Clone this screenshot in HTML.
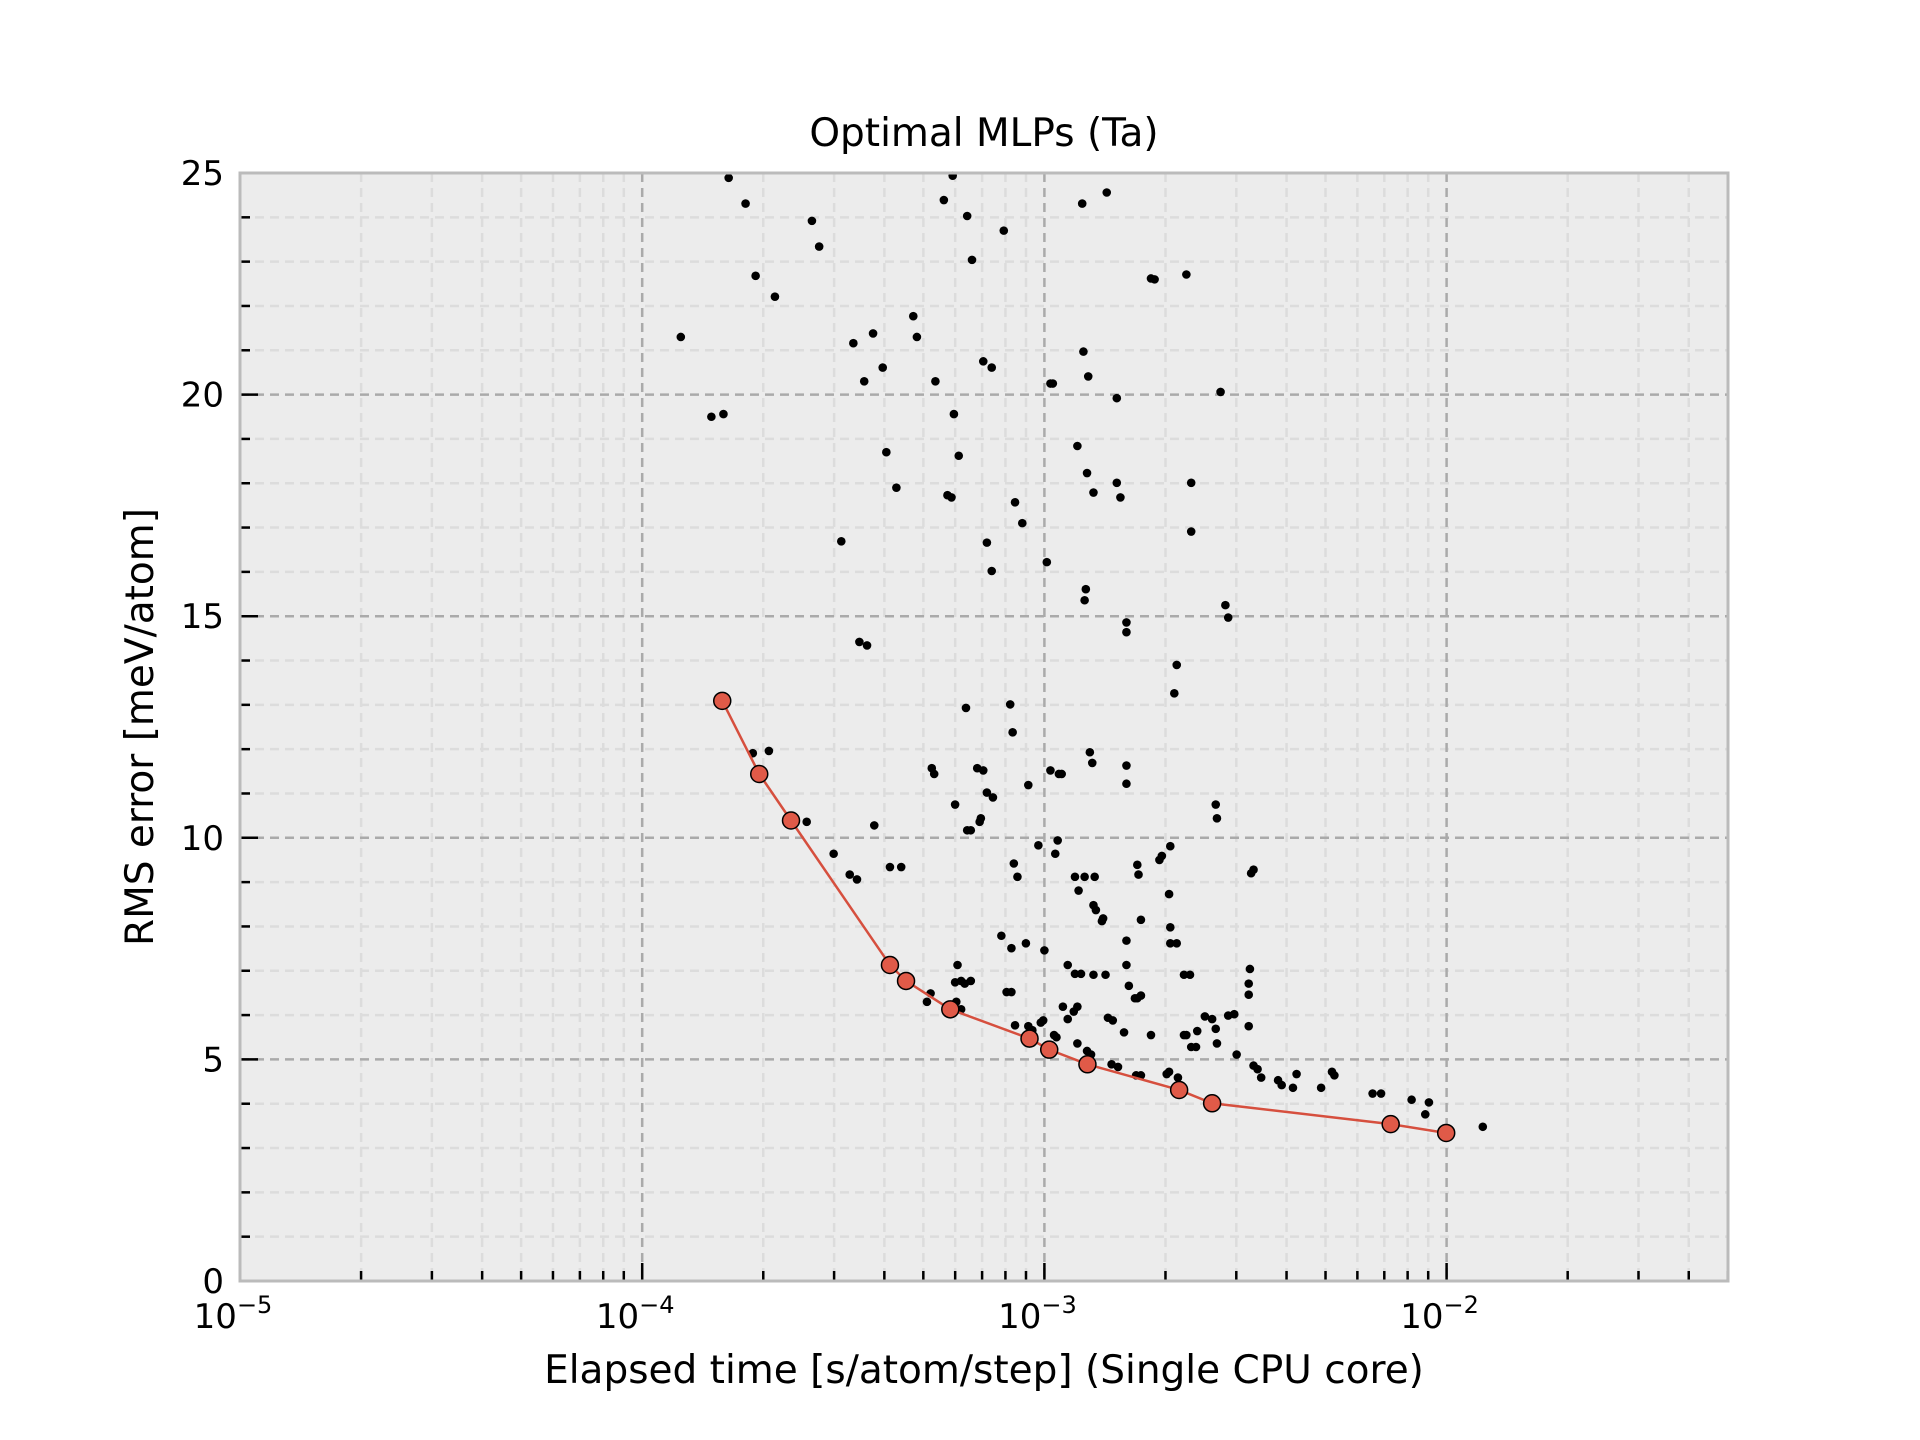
<!DOCTYPE html>
<html><head><meta charset="utf-8"><style>
html,body{margin:0;padding:0;background:#fff;}
svg{display:block;font-family:"DejaVu Sans","Liberation Sans",sans-serif;}
</style></head><body>
<svg id="chart" width="1920" height="1440" viewBox="0 0 1920 1440" xmlns="http://www.w3.org/2000/svg">
<rect x="240" y="173" width="1488" height="1108" fill="#ececec"/>
<g id="grid"></g>
<g id="ticks"></g>
<g id="series"></g>
<rect x="240" y="173" width="1488" height="1108" fill="none" stroke="#bbbbbb" stroke-width="3"/>
<text x="984" y="146" font-size="39" text-anchor="middle">Optimal MLPs (Ta)</text>
<text x="984" y="1383" font-size="39" text-anchor="middle">Elapsed time [s/atom/step] (Single CPU core)</text>
<text x="0" y="0" font-size="39" text-anchor="middle" transform="translate(153,727) rotate(-90)">RMS error [meV/atom]</text>
</svg>
<script>
// ---- data ----
const xTickExps = [-5, -4, -3, -2];
const yTickValues = [0, 5, 10, 15, 20, 25];
const paretoLogTime = [-3.801,-3.709,-3.630,-3.384,-3.344,-3.234,-3.037,-2.988,-2.893,-2.665,-2.583,-2.139,-2.001];
const paretoRMS = [13.09,11.44,10.39,7.13,6.77,6.13,5.47,5.22,4.89,4.31,4.01,3.54,3.34];
const allLogTime = [-3.785,-3.743,-3.904,-3.718,-3.670,-3.578,-3.560,-3.828,-3.798,-3.475,-3.426,-3.402,-3.448,-3.326,-3.317,-3.250,-3.228,-3.192,-3.180,-3.101,-3.271,-3.225,-3.152,-3.131,-3.213,-3.393,-3.368,-3.241,-3.231,-3.073,-3.055,-3.143,-3.131,-2.994,-2.985,-2.979,-2.906,-2.845,-2.903,-2.891,-2.820,-2.918,-2.894,-2.878,-2.820,-2.811,-2.735,-2.726,-2.647,-2.562,-2.635,-2.635,-2.897,-2.900,-2.796,-2.796,-2.550,-2.543,-2.671,-2.677,-3.505,-3.460,-3.441,
-3.725,-3.685,-3.591,-3.524,-3.484,-3.466,-3.423,-3.384,-3.356,-3.280,-3.274,-3.195,-3.085,-3.079,-3.222,-3.167,-3.152,-3.161,-3.158,-3.143,-3.128,-3.192,-3.183,-3.040,-2.985,-2.964,-2.957,-2.967,-2.973,-3.015,-3.076,-3.067,-2.887,-2.881,-2.796,-2.796,-2.769,-2.766,-2.687,-2.708,-2.714,-2.690,-2.687,-2.687,-2.671,-2.486,-2.480,-2.574,-2.571,-2.760,-2.924,-2.900,-2.875,-2.915,-2.878,-2.872,-2.857,-2.854,-3.107,-3.082,-3.046,-3.000,-3.216,-3.207,-3.183,-3.198,-3.222,-2.942,-2.924,-2.909,-2.878,-2.954,-2.918,-2.796,-2.796,-2.790,-2.775,-2.769,-2.760,-2.842,-2.830,-2.802,-2.735,-2.653,-2.647,-2.635,-2.623,-2.601,-2.583,-2.574,-2.571,-2.543,-2.528,-2.620,-2.489,-2.492,-2.492,-3.094,-3.082,-3.073,-3.009,-3.003,-2.976,-2.970,-2.918,-2.894,-2.884,-2.833,-2.817,-2.772,-2.760,-2.690,-2.696,-2.668,-2.522,-2.480,-2.470,-2.461,-2.419,-2.410,-2.382,-2.373,-2.312,-2.285,-2.279,-2.184,-2.163,-2.087,-2.044,-2.053,-1.910,-3.283,-3.292,-3.219,-3.207,-3.040,-3.030,-2.942,-2.927,-2.848,-2.653,-2.638,-2.492];
const allRMS = [24.89,24.31,21.30,22.68,22.21,23.92,23.34,19.50,19.56,21.16,21.38,20.61,20.30,21.77,21.30,24.39,24.94,24.03,23.04,23.70,20.30,19.56,20.75,20.61,18.62,18.70,17.90,17.73,17.68,17.57,17.10,16.66,16.02,16.22,20.25,20.25,24.31,24.56,20.97,20.41,19.92,18.84,18.23,17.79,18.01,17.68,22.62,22.60,22.71,20.06,18.01,16.91,15.61,15.36,14.86,14.64,15.25,14.97,13.90,13.26,16.69,14.42,14.34,
11.91,11.96,10.36,9.64,9.17,9.06,10.28,9.34,9.34,11.57,11.44,12.93,13.01,12.38,10.75,11.57,11.52,10.36,10.44,11.02,10.91,10.17,10.17,11.19,11.52,11.44,11.44,9.94,9.64,9.83,9.42,9.12,11.93,11.69,11.63,11.22,9.39,9.17,9.81,9.59,9.50,8.73,7.98,7.62,7.62,9.20,9.28,10.75,10.44,8.15,9.12,9.12,9.12,8.81,8.48,8.37,8.12,8.18,7.79,7.51,7.62,7.46,7.13,6.77,6.77,6.71,6.74,7.13,6.93,6.93,6.91,6.19,6.19,7.68,7.13,6.66,6.38,6.38,6.44,5.94,5.88,5.61,5.55,5.55,5.55,5.28,5.28,5.97,5.91,5.69,5.36,5.99,6.02,5.64,7.04,6.46,5.75,6.52,6.52,5.77,5.83,5.88,5.55,5.50,5.36,5.19,5.11,4.89,4.83,4.64,4.64,4.72,4.67,4.59,5.11,4.86,4.78,4.59,4.53,4.42,4.36,4.67,4.36,4.72,4.64,4.23,4.23,4.09,4.03,3.76,3.48,6.49,6.30,6.30,6.13,5.75,5.66,5.91,6.08,6.91,6.91,6.91,6.71];

// ---- axes ----
const L=240,R=1728,T=173,B=1281;
const xMinExp=-5, pxPerDecade=402.2;
const yMax=25;
const xs = e => L + (e - xMinExp)*pxPerDecade;
const ys = v => B - v/yMax*(B-T);
const NS="http://www.w3.org/2000/svg";
function mk(tag, attrs, parent){const el=document.createElementNS(NS,tag);for(const k in attrs)el.setAttribute(k,attrs[k]);parent.appendChild(el);return el;}
const grid=document.getElementById('grid'), ticks=document.getElementById('ticks'), series=document.getElementById('series');
const xMaxExp = xMinExp + (R-L)/pxPerDecade;

for(let d=-5; d<-1; d++){
  for(let m=2;m<=9;m++){
    const e=d+Math.log10(m); if(e>xMaxExp) continue;
    const x=xs(e);
    const g=mk('line',{x1:x,x2:x,y1:T,y2:B,stroke:'#dcdcdc','stroke-width':2.5,'stroke-dasharray':'9,6'},grid);
    
    
    const t=mk('line',{x1:x,x2:x,y1:B,y2:B-10,stroke:'#000','stroke-width':2.5},ticks);
    
    
  }
}
for(let v=1; v<25; v++){
  if(v%5===0) continue;
  const y=ys(v);
  const g=mk('line',{x1:L,x2:R,y1:y,y2:y,stroke:'#dcdcdc','stroke-width':2.5,'stroke-dasharray':'9,6'},grid);
  
  
  const t=mk('line',{x1:L,x2:L+10,y1:y,y2:y,stroke:'#000','stroke-width':2.5},ticks);
  
  
}
xTickExps.forEach(e=>{
  const x=xs(e);
  const g=mk('line',{x1:x,x2:x,y1:T,y2:B,stroke:'#aaaaaa','stroke-width':2.5,'stroke-dasharray':'9,6'},grid);
  
  
  const t=mk('line',{x1:x,x2:x,y1:B,y2:B-18,stroke:'#000','stroke-width':2.5},ticks);
  
  
  const lab=mk('text',{x:x-7,y:1328,'font-size':34,'text-anchor':'middle'},ticks);
  
  
  lab.textContent='10';
  const sup=mk('tspan',{dy:-15,'font-size':24},lab);
  sup.textContent='\u2212'+Math.abs(e);
});
yTickValues.forEach(v=>{
  const y=ys(v);
  if(v>0&&v<25){
    const g=mk('line',{x1:L,x2:R,y1:y,y2:y,stroke:'#aaaaaa','stroke-width':2.5,'stroke-dasharray':'9,6'},grid);
    
    
  }
  const t=mk('line',{x1:L,x2:L+18,y1:y,y2:y,stroke:'#000','stroke-width':2.5},ticks);
  
  
  const lab=mk('text',{x:224,y:y+12,'font-size':34,'text-anchor':'end'},ticks);
  
  
  lab.textContent=String(v);
});

allLogTime.forEach((e,i)=>{
  const c=mk('circle',{cx:xs(e),cy:ys(allRMS[i]),r:4.3,fill:'#000'},series);
  
  
});
const pts=paretoLogTime.map((e,i)=>xs(e)+','+ys(paretoRMS[i])).join(' ');
const pl=mk('polyline',{points:pts,fill:'none',stroke:'#d64f3e','stroke-width':2.5},series);


paretoLogTime.forEach((e,i)=>{
  const c=mk('circle',{cx:xs(e),cy:ys(paretoRMS[i]),r:8.5,fill:'#e05a48',stroke:'#000','stroke-width':1.5},series);
  
  
});
</script>
</body></html>
